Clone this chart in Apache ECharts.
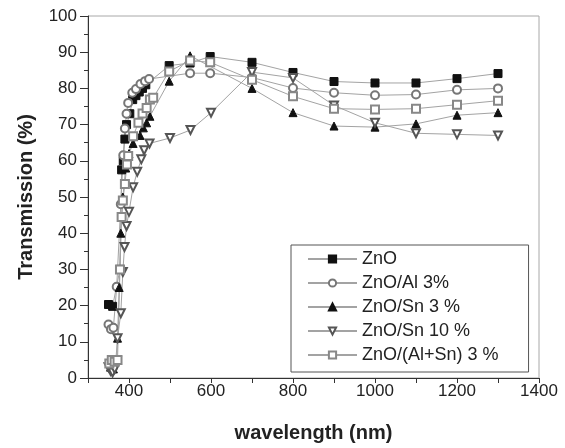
<!DOCTYPE html>
<html>
<head>
<meta charset="utf-8">
<script src="https://cdn.jsdelivr.net/npm/echarts@6/dist/echarts.min.js"></script>
<style>
  html, body { margin: 0; padding: 0; background: #fff; }
  #chart { width: 565px; height: 448px; }
</style>
</head>
<body>
<div id="chart"></div>
<script>
// series names, as in the legend
const seriesNames = ['ZnO', 'ZnO/Al 3%', 'ZnO/Sn 3 %', 'ZnO/Sn 10 %', 'ZnO/(Al+Sn) 3 %'];

// wavelength (nm) / transmission (%)
const wlZnO = [350, 360, 378, 382, 386, 390, 394, 402, 409, 417, 425, 433, 441, 498, 549, 598, 700, 800, 900, 1000, 1100, 1200, 1300];
const tZnO  = [20.3, 19.8, 30, 57.5, 60, 66, 70, 73, 76.9, 78, 79, 80, 81, 86.3, 87, 88.8, 87.2, 84.4, 81.9, 81.5, 81.5, 82.7, 84.1];

const wlAl = [350, 356, 362, 370, 380, 386, 390, 394, 398, 408, 417, 428, 439, 449, 549, 598, 700, 800, 900, 1000, 1100, 1200, 1300];
const tAl  = [14.8, 13.5, 13.9, 25.2, 48, 61.5, 68.9, 73, 76, 78.8, 79.8, 81.2, 82, 82.6, 84.2, 84.2, 83, 80.1, 78.8, 78.1, 78.3, 79.6, 80];

const wlSn3 = [355, 362, 368, 372, 376, 380, 385, 392, 400, 410, 427, 435, 443, 451, 498, 549, 700, 800, 900, 1000, 1100, 1200, 1300];
const tSn3  = [3, 2.5, 5, 11, 25, 40, 50, 58, 62, 64.8, 67, 69.1, 70.5, 72.3, 82, 89, 80, 73.3, 69.6, 69.3, 70.2, 72.6, 73.3];

const wlSn10 = [350, 355, 360, 365, 370, 372, 380, 385, 389, 394, 400, 410, 420, 430, 437, 450, 500, 550, 600, 700, 800, 900, 1000, 1100, 1200, 1300];
const tSn10  = [3, 2, 1.5, 2.5, 4.6, 11, 17.9, 29.3, 36.2, 42, 45.9, 52.7, 57, 60.4, 62.9, 64.8, 66.3, 68.5, 73.3, 84.5, 82.9, 75.3, 70.5, 67.6, 67.3, 67.0];

const wlAlSn = [352, 358, 365, 372, 378, 382, 385, 390, 395, 398, 410, 423, 433, 443, 451, 459, 498, 549, 598, 700, 800, 900, 1000, 1100, 1200, 1300];
const tAlSn  = [4, 5, 4.5, 5, 30, 44.5, 49, 53.6, 59, 61.3, 66.8, 70.5, 73.1, 74.6, 76.9, 77.4, 84.7, 87.7, 87.2, 82.4, 77.8, 74.4, 74.2, 74.4, 75.5, 76.6];

const xTickLabels = [400, 600, 800, 1000, 1200, 1400];

const FONT = '"Liberation Sans", Arial, Helvetica, sans-serif';
const LINE_GRAY = '#a3a3a3';

const pairs = (xs, ys) => xs.map((x, i) => [x, ys[i]]);

const chart = echarts.init(document.getElementById('chart'), null, { renderer: 'canvas' });

function mkSeries(name, xs, ys, symbol, color, opts) {
  return Object.assign({
    name: name,
    type: 'line',
    data: pairs(xs, ys),
    symbol: symbol,
    symbolSize: 8,
    showAllSymbol: true,
    lineStyle: { color: LINE_GRAY, width: 1 },
    itemStyle: { color: color, borderColor: color, borderWidth: 1 },
    emphasis: { disabled: true },
    animation: false
  }, opts || {});
}

const option = {
  backgroundColor: '#fff',
  animation: false,
  grid: {
    left: 88, right: 26, top: 16, bottom: 68,
    show: true, borderColor: '#a8a8a8', borderWidth: 1
  },
  legend: {
    orient: 'vertical',
    left: 291,
    top: 245,
    padding: [5, 30, 8, 16],
    itemWidth: 49,
    itemHeight: 9,
    itemGap: 6,
    borderColor: '#555',
    borderWidth: 1,
    textStyle: { fontFamily: FONT, fontSize: 18, color: '#222' },
    data: seriesNames
  },
  xAxis: {
    type: 'value',
    min: 300, max: 1400, interval: 100,
    name: 'wavelength (nm)',
    nameLocation: 'middle',
    nameGap: 45,
    nameTextStyle: { fontFamily: FONT, fontSize: 20, fontWeight: 'bold', color: '#222' },
    axisLine: { lineStyle: { color: '#333', width: 1 } },
    axisTick: { inside: false, length: 5, lineStyle: { color: '#333' } },
    axisLabel: {
      margin: 5,
      fontFamily: FONT, fontSize: 17, color: '#222',
      formatter: v => (xTickLabels.indexOf(v) >= 0 ? String(v) : '')
    },
    splitLine: { show: false }
  },
  yAxis: {
    type: 'value',
    min: 0, max: 100, interval: 10,
    name: 'Transmission (%)',
    nameLocation: 'middle',
    nameGap: 52,
    nameTextStyle: { fontFamily: FONT, fontSize: 20, fontWeight: 'bold', color: '#222' },
    axisLine: { show: true, lineStyle: { color: '#333', width: 1 } },
    axisTick: { inside: false, length: 8, lineStyle: { color: '#333' } },
    minorTick: { show: true, splitNumber: 2, length: 4, lineStyle: { color: '#333' } },
    axisLabel: { margin: 11, fontFamily: FONT, fontSize: 17, color: '#222' },
    splitLine: { show: false }
  },
  series: [
    mkSeries(seriesNames[0], wlZnO, tZnO, 'rect', '#111'),
    mkSeries(seriesNames[1], wlAl, tAl, 'emptyCircle', '#777'),
    mkSeries(seriesNames[2], wlSn3, tSn3, 'triangle', '#111'),
    mkSeries(seriesNames[3], wlSn10, tSn10, 'emptyTriangle', '#555', { symbolRotate: 180 }),
    mkSeries(seriesNames[4], wlAlSn, tAlSn, 'emptyRect', '#888')
  ]
};

chart.setOption(option);
</script>
</body>
</html>
